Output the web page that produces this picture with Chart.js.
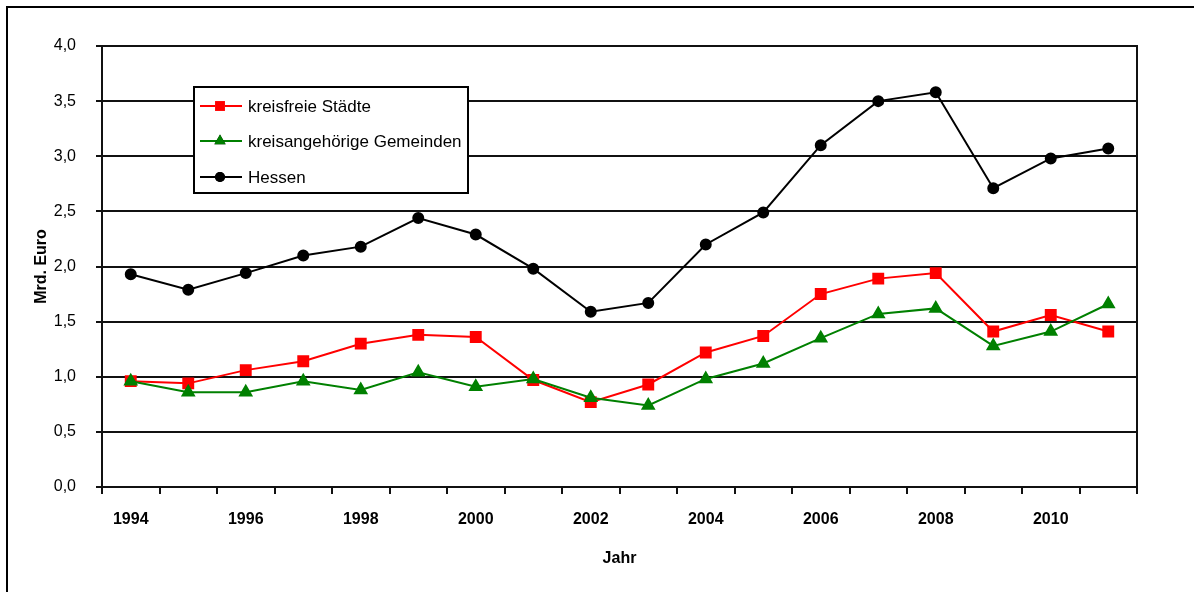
<!DOCTYPE html>
<html>
<head>
<meta charset="utf-8">
<script src="https://cdn.jsdelivr.net/npm/chart.js@4.4.1/dist/chart.umd.min.js"></script>
<style>
  body { margin: 0; background: #fff; }
  #wrap { position: relative; width: 1194px; height: 592px; overflow: hidden; }
  #frame { position: absolute; left: 6px; top: 6px; width: 1300px; height: 700px;
           border-left: 2px solid #000; border-top: 2px solid #000; pointer-events: none; }
</style>
</head>
<body>
<div id="wrap">
  <canvas id="chart" width="1194" height="592"></canvas>
  <div id="frame"></div>
</div>
<script>
// Data (Mrd. Euro)
const years = ['1994', '1995', '1996', '1997', '1998', '1999', '2000', '2001', '2002',
               '2003', '2004', '2005', '2006', '2007', '2008', '2009', '2010', '2011'];
const kreisfreieStaedte = [0.96, 0.94, 1.06, 1.14, 1.30, 1.38, 1.36, 0.97, 0.77,
                           0.93, 1.22, 1.37, 1.75, 1.89, 1.94, 1.41, 1.56, 1.41];
const kreisangehoerigeGemeinden = [0.96, 0.86, 0.86, 0.96, 0.88, 1.04, 0.91, 0.98, 0.81,
                                   0.74, 0.98, 1.12, 1.35, 1.57, 1.62, 1.28, 1.41, 1.66];
const hessen = [1.93, 1.79, 1.94, 2.10, 2.18, 2.44, 2.29, 1.98, 1.59,
                1.67, 2.20, 2.49, 3.10, 3.50, 3.58, 2.71, 2.98, 3.07];

Chart.defaults.font.family = "'Liberation Sans', Arial, sans-serif";
Chart.defaults.font.size = 16;
Chart.defaults.color = '#000';

// Legend box inside the plot + right border of the plot area
const boxLegend = {
    id: 'boxLegend',
    afterDraw(chart) {
        const c = chart.ctx;
        const area = chart.chartArea;
        c.save();
        // right edge of plot area
        c.strokeStyle = '#111';
        c.lineWidth = 2;
        c.beginPath();
        c.moveTo(area.right, area.top - 1);
        c.lineTo(area.right, area.bottom + 7);
        c.stroke();

        // legend box
        const bx = 194, by = 87, bw = 274, bh = 106;
        c.fillStyle = '#fff';
        c.fillRect(bx, by, bw, bh);
        c.strokeStyle = '#000';
        c.strokeRect(bx, by, bw, bh);
        const rows = [106, 141, 177];
        chart.data.datasets.forEach((ds, i) => {
            const y = rows[i];
            c.strokeStyle = ds.borderColor;
            c.lineWidth = ds.borderWidth;
            c.beginPath();
            c.moveTo(200, y);
            c.lineTo(242, y);
            c.stroke();
            Chart.helpers.drawPoint(c, {
                pointStyle: ds.pointStyle, radius: ds.pointRadius, rotation: 0, borderWidth: 0
            }, 220, y);
            c.fillStyle = ds.borderColor;
            c.fill();
            c.fillStyle = '#000';
            c.font = "17px 'Liberation Sans', Arial, sans-serif";
            c.textBaseline = 'middle';
            c.textAlign = 'left';
            c.fillText(ds.label, 248, y + 1);
        });
        c.restore();
    }
};

new Chart(document.getElementById('chart'), {
    type: 'line',
    data: {
        labels: years,
        datasets: [{
            label: 'kreisfreie Städte',
            data: kreisfreieStaedte,
            borderColor: '#ff0000',
            backgroundColor: '#ff0000',
            borderWidth: 2,
            pointStyle: 'rect',
            pointRadius: 7,
            order: 2
        }, {
            label: 'kreisangehörige Gemeinden',
            data: kreisangehoerigeGemeinden,
            borderColor: '#008000',
            backgroundColor: '#008000',
            borderWidth: 2,
            pointStyle: 'triangle',
            pointRadius: 6.5,
            order: 1
        }, {
            label: 'Hessen',
            data: hessen,
            borderColor: '#000000',
            backgroundColor: '#000000',
            borderWidth: 2,
            pointStyle: 'circle',
            pointRadius: 5,
            order: 0
        }]
    },
    options: {
        responsive: false,
        animation: false,
        layout: { padding: { left: 28, right: 57, top: 46, bottom: 20 } },
        elements: {
            line: { tension: 0 },
            point: { borderWidth: 0, hoverRadius: 5 }
        },
        plugins: {
            legend: { display: false },
            tooltip: { enabled: false }
        },
        scales: {
            x: {
                offset: true,
                grid: { offset: true, drawOnChartArea: false, color: '#111', lineWidth: 2, tickLength: 7 },
                border: { display: true, color: '#111', width: 2 },
                ticks: {
                    autoSkip: false,
                    maxRotation: 0,
                    padding: 16,
                    font: { weight: 'bold', size: 16 },
                    callback: function (val, idx) { return idx % 2 === 0 ? this.getLabelForValue(val) : ''; }
                },
                title: { display: true, text: 'Jahr', font: { weight: 'bold', size: 16 } },
                afterFit: s => { s.height = 85; }
            },
            y: {
                min: 0,
                max: 4,
                grid: { color: '#111', lineWidth: 2, tickLength: 6 },
                border: { display: true, color: '#111', width: 2 },
                ticks: {
                    stepSize: 0.5,
                    padding: 20,
                    callback: v => v.toFixed(1).replace('.', ',')
                },
                title: { display: true, text: 'Mrd. Euro', font: { weight: 'bold', size: 16 } },
                afterFit: s => { s.width = 74; }
            }
        }
    },
    plugins: [boxLegend]
});
</script>
</body>
</html>
